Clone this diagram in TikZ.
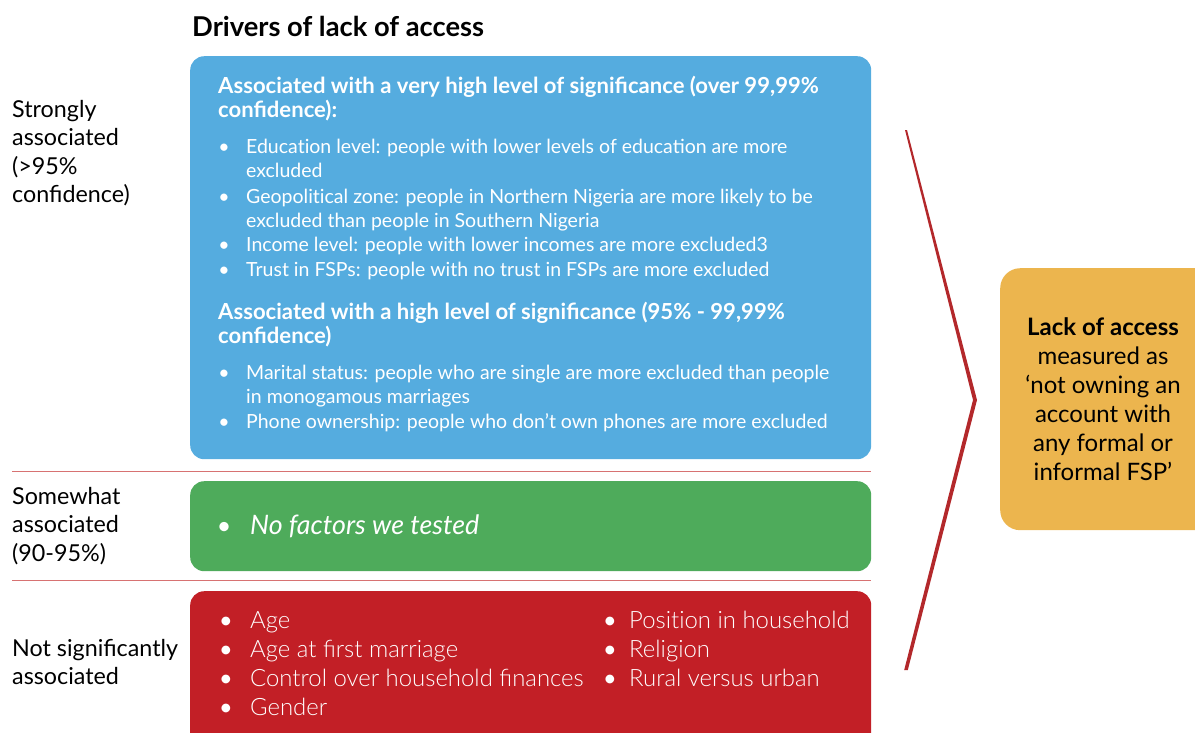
\documentclass[tikz,border=0pt]{standalone}
\usepackage{fontspec}
\setmainfont{Lato}
\newfontfamily\latolight{Lato Light}
\usetikzlibrary{positioning,calc}
\definecolor{sigblue}{HTML}{55ACDF}
\definecolor{siggreen}{HTML}{4EAB5B}
\definecolor{sigred}{HTML}{C21F26}
\definecolor{sigorange}{HTML}{ECB54E}
\definecolor{ruleline}{HTML}{D77272}
\definecolor{chevron}{HTML}{B3282B}
\newcommand{\ti}{t\kern0pt i}

\begin{document}
\begin{tikzpicture}[
  x=1pt, y=-1pt,
  band/.style={
    rounded corners=14pt,
    anchor=north west,
    inner sep=0pt,
    minimum width=681pt
  },
  levellabel/.style={
    anchor=base west,
    align=left,
    inner sep=0pt,
    font=\fontsize{23.3}{28.3}\selectfont
  },
  heading/.style={
    anchor=base west,
    align=left,
    inner sep=0pt,
    text=white,
    font=\bfseries\fontsize{22.1}{24}\selectfont
  },
  itemtext/.style={
    anchor=base west,
    align=left,
    inner sep=0pt,
    text=white,
    font=\fontsize{19.5}{24}\selectfont
  },
  dot/.style={
    anchor=base,
    inner sep=0pt,
    text=white
  },
  factor/.style={
    anchor=base west,
    align=left,
    inner sep=0pt,
    text=white,
    font=\latolight\fontsize{23.9}{29}\selectfont
  }
]
  \useasboundingbox (0,0) rectangle (1195,732);

  % Title
  \node[anchor=base west, inner sep=0pt, font=\bfseries\fontsize{27.3}{30}\selectfont] (title) at (192,36) {Drivers of lack of access};

  % --- Level boxes ---
  \node[band, fill=sigblue, minimum height=403pt] (strong) at (190,56) {};
  \node[band, fill=siggreen, minimum height=90pt] (some) at (190,481) {};
  \node[band, fill=sigred, minimum height=160pt] (none) at (190,591) {};

  % Separators between levels
  \draw[ruleline, line width=1pt] (12,471) -- (871,471);
  \draw[ruleline, line width=1pt] (12,580) -- (871,580);

  % --- Left labels (placed by their last line) ---
  \node[levellabel] (lstrong) at (12,202.4) {Strongly\\associated\\(>95\%\\confidence)};
  \node[levellabel] (lsome) at (12,561.1) {Somewhat\\associated\\(90-95\%)};
  \node[levellabel] (lnone) at (12,684.8) {Not significantly\\associated};

  % --- Strongly associated ---
  \node[heading] (h1) at (218,117) {Associated with a very high level of significance (over 99,99\%\\confidence):};
  \node[itemtext] (i1) at (246,177.5) {Educa\ti on level: people with lower levels of education are more\\excluded};
  \node[itemtext] (i2) at (246,227.5) {Geopoli\ti cal zone: people in Northern Nigeria are more likely to be\\excluded than people in Southern Nigeria};
  \node[itemtext] (i3) at (246,251.5) {Income level: people with lower incomes are more excluded3};
  \node[itemtext] (i4) at (246,276.5) {Trust in FSPs: people with no trust in FSPs are more excluded};
  \node[heading] (h2) at (218,343) {Associated with a high level of significance (95\% - 99,99\%\\confidence)};
  \node[itemtext] (i5) at (246,403.5) {Marital status: people who are single are more excluded than people\\in monogamous marriages};
  \node[itemtext] (i6) at (246,428.5) {Phone ownership: people who don’t own phones are more excluded};
  \foreach \y in {153.5,203.5,251.5,276.5,379.5,428.5}
    \node[dot, font=\fontsize{19.5}{24}\selectfont] at (224,\y) {•};

  % --- Somewhat associated ---
  \node[factor, font=\itshape\fontsize{26.8}{29}\selectfont] (nofactor) at (250,534.5) {No factors we tested};
  \node[dot, font=\fontsize{25}{29}\selectfont] at (224,0 |- nofactor.base) {•};

  % --- Not significantly associated ---
  \node[factor] (f1) at (250,628) {Age};
  \node[factor] (f2) at (250,657) {Age at first marriage};
  \node[factor] (f3) at (250,686) {Control over household finances};
  \node[factor] (f4) at (250,715) {Gender};
  \node[factor] (f5) at (629,628) {Posi\ti on in household};
  \node[factor] (f6) at (629,657) {Religion};
  \node[factor] (f7) at (629,686) {Rural versus urban};
  \foreach \n in {f1,f2,f3,f4}
    \node[dot, font=\fontsize{23.5}{29}\selectfont] at (226,0 |- \n.base) {•};
  \foreach \n in {f5,f6,f7}
    \node[dot, font=\fontsize{23.5}{29}\selectfont] at (610,0 |- \n.base) {•};

  % --- Chevron ---
  \coordinate (ctop) at (906,130);
  \coordinate (ctip) at (975,400);
  \coordinate (cbot) at (906,670);
  \fill[chevron] ($(ctop)+(1,0)$) -- ($(ctip)+(2,0)$) -- ($(cbot)+(1.8,0)$) -- ($(cbot)+(-1.8,0)$) -- ($(ctip)+(-2,0)$) -- ($(ctop)+(-1,0)$) -- cycle;

  % --- Outcome ---
  \node[rounded corners=20pt, fill=sigorange, anchor=north west, minimum width=215pt, minimum height=262pt] (outcome) at (1000,268) {};
  \node[anchor=base, align=center, inner sep=0pt, font=\fontsize{24}{29}\selectfont] (otext) at (1103,480.5) {\textbf{Lack of access}\\measured as\\‘not owning an\\account with\\any formal or\\informal FSP’};
\end{tikzpicture}
\end{document}
